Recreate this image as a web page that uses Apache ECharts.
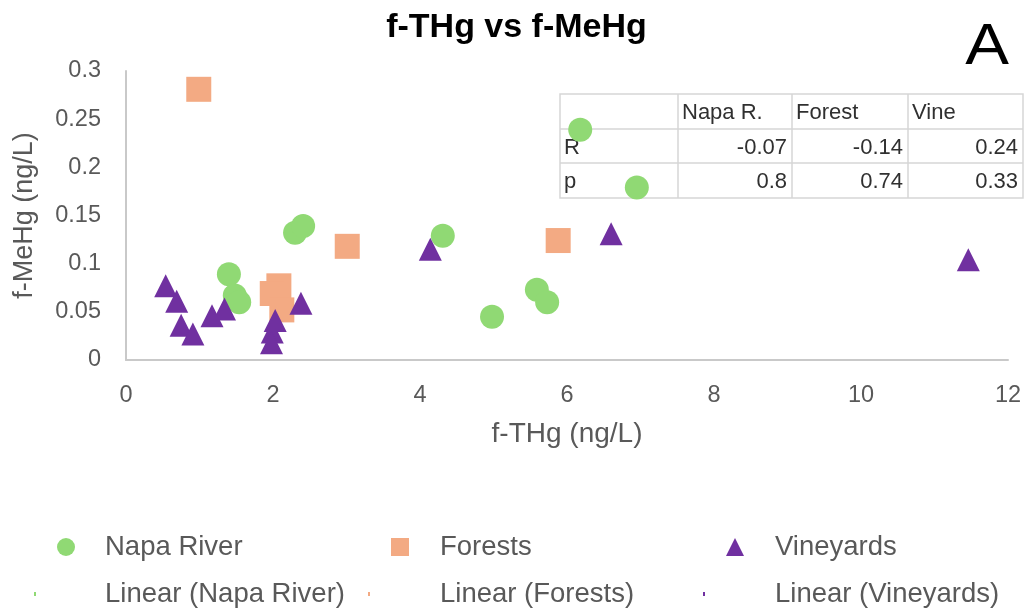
<!DOCTYPE html>
<html><head><meta charset="utf-8">
<script src="https://cdn.jsdelivr.net/npm/echarts@6/dist/echarts.min.js"></script>
<style>html,body{margin:0;padding:0;background:#fff}#c{width:1033px;height:613px}</style>
</head><body><div id="c"></div>
<script>
// ---- data ----
const napaX = [6.18, 6.95, 2.30, 2.41, 4.31, 1.40, 1.48, 1.54, 5.59, 5.73, 4.98];
const napaY = [0.239, 0.179, 0.132, 0.139, 0.129, 0.089, 0.067, 0.060, 0.073, 0.060, 0.045];
const forestX = [0.99, 2.08, 1.99, 2.12, 3.01, 5.88];
const forestY = [0.281, 0.077, 0.069, 0.052, 0.118, 0.124];
const vineX = [0.54, 0.69, 0.75, 0.91, 1.17, 1.34, 2.03, 1.99, 1.98, 2.38, 4.14, 6.60, 11.46];
const vineY = [0.077, 0.061, 0.036, 0.027, 0.046, 0.053, 0.041, 0.029, 0.018, 0.059, 0.115, 0.131, 0.104];
const seriesNames = ['Napa River', 'Forests', 'Vineyards'];
const trendNames = ['Linear (Napa River)', 'Linear (Forests)', 'Linear (Vineyards)'];
const tableCols = ['Napa R.', 'Forest', 'Vine'];
const tableRowNames = ['R', 'p'];
const rValues = [-0.07, -0.14, 0.24];
const pValues = [0.8, 0.74, 0.33];

const FONT = '"Liberation Sans", Arial, Helvetica, sans-serif';
const colors = ['#90d974', '#f3aa83', '#7030a0'];
const zip = (xs, ys) => xs.map((x, i) => [x, ys[i]]);

// ---- table graphic ----
const colX = [560, 678, 792, 908, 1023];
const rowY = [94, 129, 163, 198];
const tblFont = '22px ' + FONT;
const tblColor = '#303030';
const gEls = [];
gEls.push({type: 'rect', shape: {x: colX[0], y: rowY[0], width: colX[4] - colX[0], height: rowY[3] - rowY[0]},
  style: {fill: '#fff', stroke: '#d6d6d6', lineWidth: 1.5}, z: -1});
for (let i = 1; i < 4; i++) gEls.push({type: 'line', shape: {x1: colX[i], y1: rowY[0], x2: colX[i], y2: rowY[3]}, style: {stroke: '#d6d6d6', lineWidth: 1.5}, z: -1});
for (let j = 1; j < 3; j++) gEls.push({type: 'line', shape: {x1: colX[0], y1: rowY[j], x2: colX[4], y2: rowY[j]}, style: {stroke: '#d6d6d6', lineWidth: 1.5}, z: -1});
function txt(t, x, y, align, font, fill, sx) {
  return {type: 'text', x: x, y: y, scaleX: sx || 1, z: -1,
    style: {text: t, x: 0, y: 0, font: font, fill: fill, textAlign: align, textVerticalAlign: 'middle', align: align, verticalAlign: 'middle'}};
}
const rowMid = [113, 148, 182];
tableCols.forEach((c, i) => gEls.push(txt(c, colX[i + 1] + 4, rowMid[0], 'left', tblFont, tblColor)));
tableRowNames.forEach((r, j) => gEls.push(txt(r, colX[0] + 4, rowMid[j + 1], 'left', tblFont, tblColor)));
rValues.forEach((v, i) => gEls.push(txt(String(v), colX[i + 2] - 5, rowMid[1], 'right', tblFont, tblColor)));
pValues.forEach((v, i) => gEls.push(txt(String(v), colX[i + 2] - 5, rowMid[2], 'right', tblFont, tblColor)));
gEls.push(txt('A', 987, 48, 'center', '57px ' + FONT, '#000', 1.15));

// ---- legend ----
const SQ = 'path://M0 0H10V10H0Z';
const TRI = 'path://M5 0L10 10L0 10Z';
const icons = ['circle', SQ, TRI];
const iconCenters = [66, 400, 735];
const textStarts = [105, 440, 775];
const IW = 18;
const legendText = {fontFamily: FONT, fontSize: 27.5, color: '#595959', lineHeight: 30};
const legends = [];
seriesNames.forEach((n, i) => {
  const left = iconCenters[i] - IW / 2;
  legends.push({
    orient: 'horizontal', left: left, top: 532, padding: 0,
    itemWidth: IW, itemHeight: IW, selectedMode: false,
    textStyle: Object.assign({padding: [0, 0, 0, textStarts[i] - left - IW - 5]}, legendText),
    data: [{name: n, icon: icons[i]}]
  });
  const left2 = iconCenters[i] - 32;
  legends.push({
    orient: 'horizontal', left: left2, top: 579, padding: 0,
    itemWidth: 2, itemHeight: 4, selectedMode: false,
    textStyle: Object.assign({padding: [0, 0, 0, textStarts[i] - left2 - 7]}, legendText),
    data: [{name: trendNames[i], icon: 'rect', itemStyle: {color: colors[i], borderWidth: 0}}]
  });
});

const symbols = ['circle', 'rect', 'triangle'];
const sizes = [24, 25, 23];
const datas = [zip(napaX, napaY), zip(forestX, forestY), zip(vineX, vineY)];
const series = [];
seriesNames.forEach((n, i) => series.push({
  type: 'scatter', name: n, data: datas[i], symbol: symbols[i], symbolSize: sizes[i],
  itemStyle: {color: colors[i], opacity: 1}, emphasis: {disabled: true}
}));
trendNames.forEach((n, i) => series.push({
  type: 'line', name: n, data: [], showSymbol: false, lineStyle: {width: 0, color: colors[i]}, itemStyle: {color: colors[i]}
}));

const axisCommon = {
  axisLine: {show: true, onZero: false, lineStyle: {color: '#c9c9c9', width: 2}},
  axisTick: {show: false}, splitLine: {show: false},
  nameLocation: 'middle'
};
const chart = echarts.init(document.getElementById('c'));
chart.setOption({
  animation: false,
  backgroundColor: '#fff',
  title: {text: 'f-THg vs f-MeHg', left: 'center', top: 6,
    textStyle: {fontFamily: FONT, fontSize: 34, fontWeight: 'bold', color: '#000'}},
  grid: {left: 126, right: 25, top: 71, bottom: 253, containLabel: false},
  xAxis: Object.assign({type: 'value', min: 0, max: 12, interval: 2, name: 'f-THg (ng/L)', nameGap: 60,
    nameTextStyle: {fontFamily: FONT, fontSize: 28, color: '#595959'},
    axisLabel: {fontFamily: FONT, fontSize: 23.5, color: '#595959', margin: 24}}, axisCommon),
  yAxis: Object.assign({type: 'value', min: 0, max: 0.3, interval: 0.05, name: 'f-MeHg (ng/L)', nameGap: 88,
    nameTextStyle: {fontFamily: FONT, fontSize: 27, color: '#595959'},
    axisLabel: {fontFamily: FONT, fontSize: 23.5, color: '#595959', margin: 25}}, axisCommon),
  legend: legends,
  graphic: {elements: gEls},
  series: series
});
</script></body></html>
